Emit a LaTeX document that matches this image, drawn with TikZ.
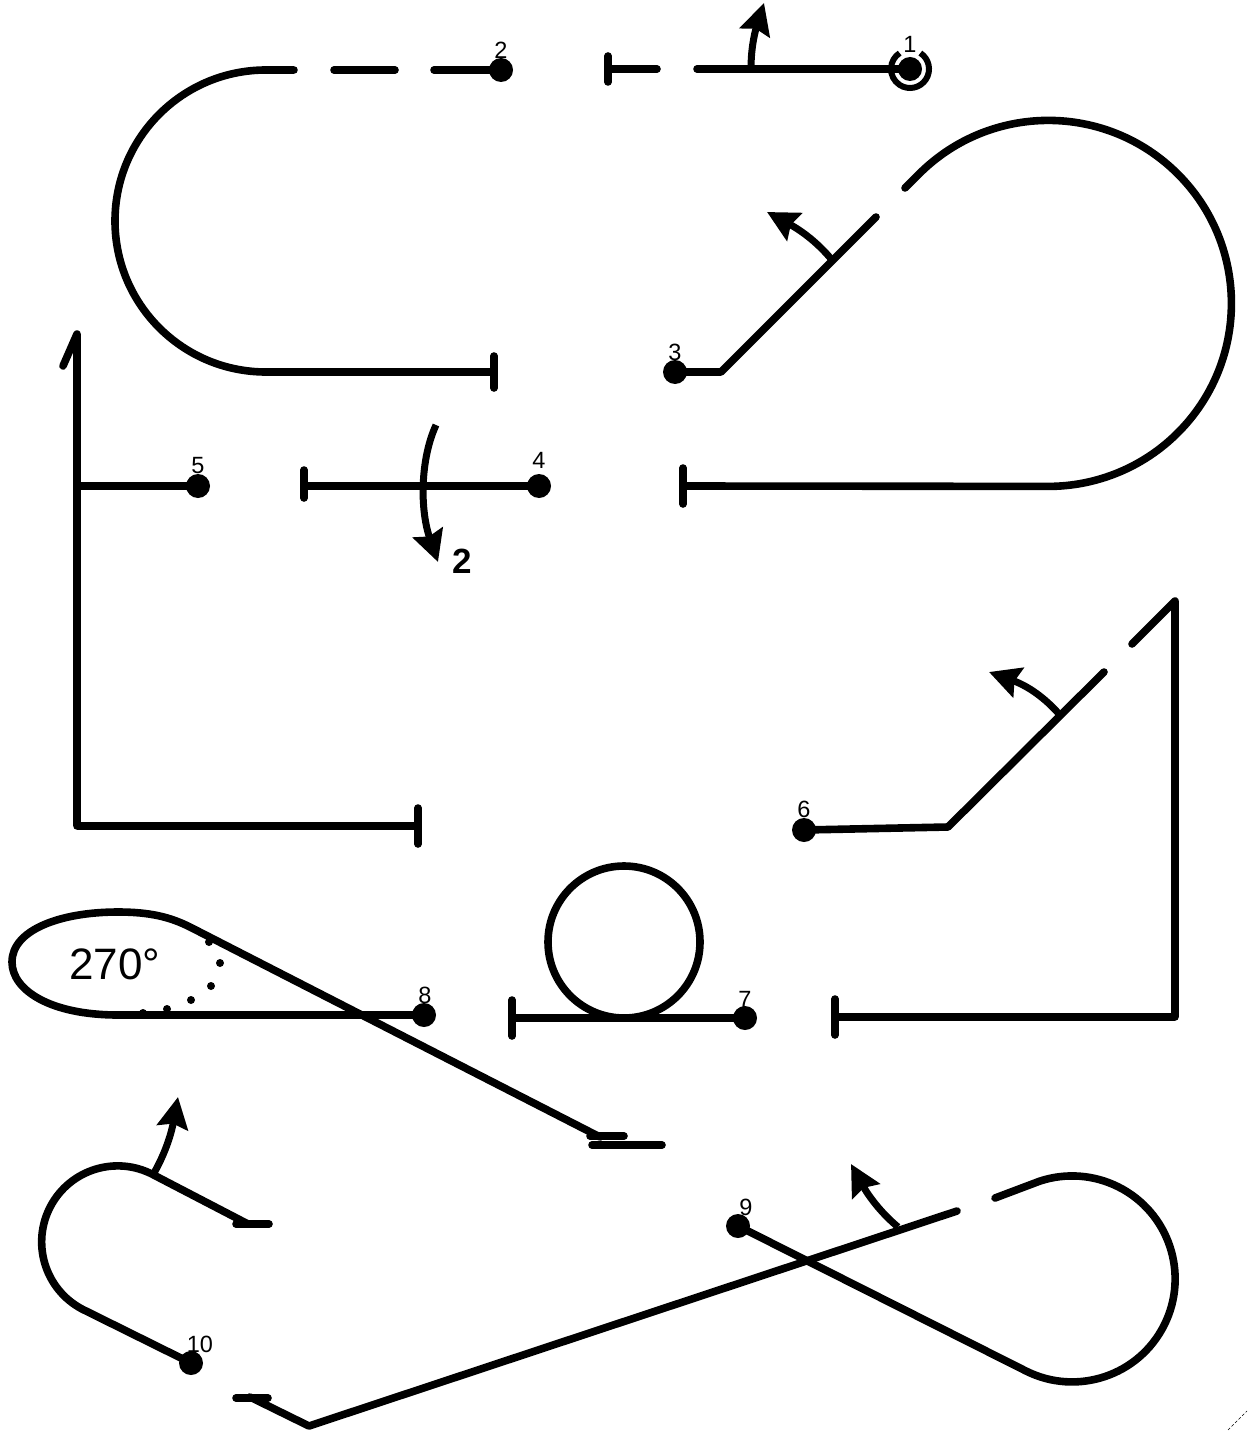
\documentclass[tikz,border=0pt]{standalone}
\usepackage{fontspec}
\setmainfont{Liberation Sans}
\usepackage{tikz}
\usetikzlibrary{arrows.meta,calc,positioning}
\tikzset{
  route/.style={line width=7.6pt,line cap=round,line join=round},
  turnarrow/.style={line width=7pt,-{Stealth[length=31pt,width=31pt,inset=4pt]}},
  station/.style={circle,fill=black,inner sep=0pt,minimum size=24pt},
  stationlabel/.style={font=\fontsize{23.5}{23.5}\selectfont,inner sep=0pt},
  markdot/.style={circle,fill=black,inner sep=0pt,minimum size=8pt},
}
\begin{document}
\begin{tikzpicture}[x=1pt,y=1pt,yscale=-1]
        \useasboundingbox (0,0) rectangle (1247,1431);
        % stations and their numbers
        \foreach \n/\x/\y/\tx/\ty in {1/910/69/910/44,2/501/70/501/50,3/675/372/675/352,4/539/486/539/460,5/198/486/198/466,6/804/830/804/809,7/745/1018/745/999,8/424/1015/425/995,9/738/1226/746/1207,10/191/1363/200/1344}{
          \node[station] (s\n) at (\x,\y) {};
          \node[stationlabel] (t\n) at (\tx,\ty) {\n};
        }
        % first leg
        \draw[route] (697,69) -- (s1.center);
        \draw[line width=6pt] (s1.center)++(-57:19) arc(-57:237:19);
        \draw[turnarrow] (751,69) .. controls (751,50) and (754,35) .. (764,3);
        \draw[route] (608,56) -- (608,82);
        \draw[route] (608,69) -- (657,69);
        \draw[route] (434,70) -- (s2.center);
        \draw[route] (334,70) -- (395,70);
        \draw[route] (294,70) -- (266,70) arc(-90:-270:151) -- (494,372);
        \draw[route] (494,356) -- (494,388);
        % second leg
        \draw[route] (s3.center) -- (721,372) -- (876,217);
        \draw[turnarrow] (832,260) .. controls (818,243) and (802,231) .. (767,212);
        \draw[route] (905,188) -- (919,174) arc(-135:90:183) -- (683,486);
        \draw[route] (683,468) -- (683,504);
        % third leg
        \draw[route] (s4.center) -- (304,486);
        \draw[route] (304,470) -- (304,498);
        \draw[turnarrow] (436,425) .. controls (420,460) and (420,510) .. (438,562);
        \node[font=\fontsize{35}{35}\selectfont\bfseries,inner sep=0pt] (two) at (462,561) {2};
        \draw[route] (s5.center) -- (77,486);
        \draw[route] (63,366) -- (77,334) -- (77,826) -- (418,826);
        \draw[route] (418,808) -- (418,844);
        % fourth leg
        \draw[route] (s6.center) -- (948,827) -- (1104,672);
        \draw[turnarrow] (1059,714) .. controls (1045,698) and (1028,686) .. (989,672);
        \draw[route] (1132,644) -- (1175,601) -- (1175,1017) -- (835,1017);
        \draw[route] (835,999) -- (835,1035);
        % loop
        \draw[route] (s7.center) -- (512,1018);
        \draw[route] (512,1000) -- (512,1036);
        \draw[route] (624,942) circle (76);
        % teardrop
        \draw[route] (s8.center) -- (118,1015) .. controls (50,1015) and (12,990) .. (12,962)
          .. controls (12,930) and (60,912) .. (118,912) .. controls (150,912) and (170,917) .. (190,927) -- (600,1137);
        \draw[route] (590,1136) -- (624,1136);
        \draw[route] (592,1145) -- (662,1145);
        \node[font=\fontsize{44}{44}\selectfont,inner sep=0pt] (angle) at (115,964) {270°};
        \foreach \x/\y [count=\i] in {209/942,220/963,211/986,191/1000,167/1009,143/1013}{
          \node[markdot] (d\i) at (\x,\y) {};
        }
        % last leg
        \draw[route] (s9.center) -- (1026,1371) arc(116.6:-108.4:103) -- (995,1198);
        \draw[route] (957,1211) -- (309,1426) -- (250,1397);
        \draw[route] (236,1398) -- (268,1398);
        \draw[turnarrow] (898,1227) .. controls (880,1212) and (868,1195) .. (851,1164);
        \draw[route] (s10.center) -- (82,1309) arc(118:298:76) -- (248,1224);
        \draw[route] (236,1224) -- (269,1224);
        \draw[turnarrow] (154,1173) .. controls (167,1150) and (172,1130) .. (178,1097);
        \draw[densely dashed,line width=0.6pt] (1228,1430) -- (1247,1411);
      \end{tikzpicture}
\end{document}
